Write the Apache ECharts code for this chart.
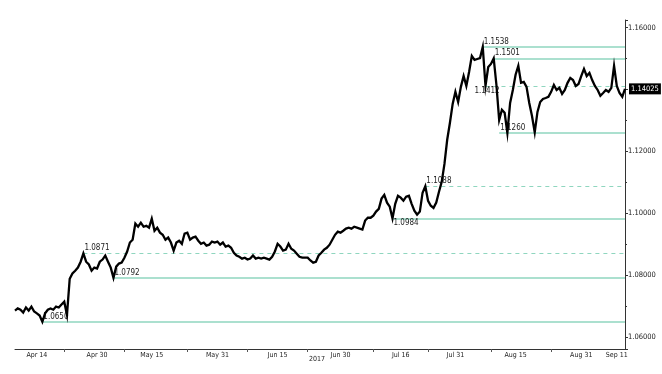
<!DOCTYPE html>
<html><head><meta charset="utf-8">
<script src="https://cdn.jsdelivr.net/npm/echarts@6/dist/echarts.min.js"></script>
<style>html,body{margin:0;padding:0;background:#fff}#c{width:662px;height:374px}</style>
</head><body><div id="c"></div>
<script>
const tradingDays = [
 'Apr 10','Apr 11','Apr 12','Apr 13','Apr 14','Apr 17','Apr 18','Apr 19','Apr 20','Apr 21','Apr 24','Apr 25','Apr 26','Apr 27','Apr 28',
 'May 1','May 2','May 3','May 4','May 5','May 8','May 9','May 10','May 11','May 12','May 15','May 16','May 17','May 18','May 19','May 22','May 23','May 24','May 25','May 26','May 29','May 30','May 31',
 'Jun 1','Jun 2','Jun 5','Jun 6','Jun 7','Jun 8','Jun 9','Jun 12','Jun 13','Jun 14','Jun 15','Jun 16','Jun 19','Jun 20','Jun 21','Jun 22','Jun 23','Jun 26','Jun 27','Jun 28','Jun 29','Jun 30',
 'Jul 3','Jul 4','Jul 5','Jul 6','Jul 7','Jul 10','Jul 11','Jul 12','Jul 13','Jul 14','Jul 17','Jul 18','Jul 19','Jul 20','Jul 21','Jul 24','Jul 25','Jul 26','Jul 27','Jul 28','Jul 31',
 'Aug 1','Aug 2','Aug 3','Aug 4','Aug 7','Aug 8','Aug 9','Aug 10','Aug 11','Aug 14','Aug 15','Aug 16','Aug 17','Aug 18','Aug 21','Aug 22','Aug 23','Aug 24','Aug 25','Aug 28','Aug 29','Aug 30','Aug 31',
 'Sep 1','Sep 4','Sep 5','Sep 6','Sep 7','Sep 8','Sep 11','Sep 12'
];
const sessions = ['00h', '12h'];

// EUR/CHF, two readings per trading day
const price = [
 1.0686,1.0693,1.0689,1.0680,1.0696,1.0686,1.0699,1.0683,1.0677,1.0670,
 1.0650,1.0677,1.0689,1.0693,1.0689,1.0699,1.0696,1.0706,1.0715,1.0672,
 1.0789,1.0806,1.0815,1.0825,1.0844,1.0871,1.0844,1.0835,1.0815,1.0825,
 1.0822,1.0844,1.0851,1.0864,1.0844,1.0825,1.0792,1.0828,1.0838,1.0841,
 1.0857,1.0877,1.0906,1.0915,1.0967,1.0957,1.0970,1.0957,1.0960,1.0954,
 1.0983,1.0944,1.0954,1.0938,1.0931,1.0915,1.0922,1.0906,1.0880,1.0906,
 1.0912,1.0902,1.0935,1.0938,1.0915,1.0922,1.0925,1.0912,1.0902,1.0906,
 1.0896,1.0899,1.0909,1.0906,1.0909,1.0899,1.0906,1.0893,1.0896,1.0889,
 1.0873,1.0864,1.0860,1.0854,1.0857,1.0851,1.0854,1.0864,1.0854,1.0857,
 1.0854,1.0857,1.0854,1.0851,1.0860,1.0877,1.0902,1.0893,1.0880,1.0883,
 1.0902,1.0886,1.0880,1.0870,1.0860,1.0857,1.0857,1.0857,1.0848,1.0841,
 1.0844,1.0864,1.0873,1.0883,1.0889,1.0899,1.0915,1.0931,1.0941,1.0938,
 1.0944,1.0951,1.0954,1.0951,1.0957,1.0954,1.0951,1.0948,1.0977,1.0986,
 1.0986,1.0993,1.1006,1.1015,1.1048,1.1060,1.1035,1.1022,1.0984,1.1031,
 1.1057,1.1051,1.1041,1.1054,1.1057,1.1031,1.1009,1.0996,1.1006,1.1067,
 1.1088,1.1041,1.1025,1.1018,1.1035,1.1070,1.1102,1.1160,1.1238,1.1293,
 1.1354,1.1393,1.1360,1.1409,1.1444,1.1412,1.1457,1.1509,1.1496,1.1499,
 1.1502,1.1538,1.1412,1.1473,1.1483,1.1501,1.1415,1.1302,1.1335,1.1325,
 1.1260,1.1357,1.1399,1.1448,1.1477,1.1422,1.1425,1.1409,1.1357,1.1315,
 1.1262,1.1328,1.1360,1.1370,1.1373,1.1377,1.1393,1.1415,1.1399,1.1406,
 1.1386,1.1399,1.1422,1.1438,1.1431,1.1412,1.1418,1.1444,1.1467,1.1444,
 1.1454,1.1431,1.1412,1.1399,1.1380,1.1389,1.1399,1.1393,1.1406,1.1477,
 1.1412,1.1389,1.1377,1.14025
];

const levelValues  = [1.0650, 1.0871, 1.0792, 1.0984, 1.1088, 1.1538, 1.1412, 1.1501, 1.1260];
const levelStart   = ['Apr 17 00h','Apr 26 12h','May 4 00h','Jul 14 00h','Jul 24 00h','Aug 7 12h','Aug 8 00h','Aug 9 12h','Aug 10 12h'];
const levelDashed  = [false, true, false, false, true, false, true, false, false];
const levelBelow   = [false, false, false, true, false, false, true, false, false];

const xLabelAt   = ['Apr 14 00h','May 1 00h','May 15 00h','May 31 00h','Jun 15 00h','Jun 30 12h','Jul 17 12h','Jul 31 12h','Aug 15 12h','Aug 31 12h','Sep 11 00h'];
const xLabelText = ['Apr 14','Apr 30','May 15','May 31','Jun 15','Jun 30','Jul 16','Jul 31','Aug 15','Aug 31','Sep 11'];
const xTickAt    = ['Apr 21 00h','May 8 00h','May 23 12h','Jun 7 12h','Jun 22 12h','Jul 10 12h','Jul 24 12h','Aug 9 00h','Aug 24 00h'];
const yearText = '2017';

const categories = [];
tradingDays.forEach(d => sessions.forEach(s => categories.push(d + ' ' + s)));
const lastCat = categories[categories.length - 1];

const FONT = '"Liberation Sans Narrow","DejaVu Sans Condensed","Liberation Sans",sans-serif';
const LEVEL_COLOR = '#8fd6bf';

const markData = levelValues.map((v, i) => [
  { name: v.toFixed(4), coord: [levelStart[i], v],
    lineStyle: { type: levelDashed[i] ? [4, 4] : 'solid', width: levelDashed[i] ? 1 : 1.5, color: LEVEL_COLOR },
    label: { position: levelBelow[i] ? 'insideStartBottom' : 'insideStartTop',
             offset: (levelBelow[i] && levelDashed[i]) ? [-12, 0] : [0, 0] } },
  { coord: [lastCat, v] }
]);

const chart = echarts.init(document.getElementById('c'), null, { renderer: 'canvas' });
chart.setOption({
  animation: false,
  backgroundColor: '#fff',
  grid: { left: 15, right: 37, top: 20, bottom: 25, containLabel: false },
  xAxis: {
    type: 'category', data: categories, boundaryGap: false,
    axisLine: { lineStyle: { color: '#333', width: 1 } },
    axisTick: { show: true, length: 3, interval: (i, v) => xTickAt.includes(v), lineStyle: { color: '#555' } },
    axisLabel: { interval: (i, v) => xLabelAt.includes(v), formatter: v => xLabelText[xLabelAt.indexOf(v)] || '',
      fontSize: 7, color: '#222', margin: 3, fontFamily: FONT, hideOverlap: false },
    splitLine: { show: false }
  },
  yAxis: {
    type: 'value', position: 'right', min: 1.0562, max: 1.1625, splitNumber: 5,
    axisLine: { show: true, lineStyle: { color: '#333', width: 1 } },
    axisTick: { show: true, length: 3, lineStyle: { color: '#333' } },
    minorTick: { show: true, splitNumber: 2, length: 2, lineStyle: { color: '#333' } },
    splitLine: { show: false },
    axisLabel: { showMinLabel: false, showMaxLabel: false, fontSize: 7.5, color: '#222', margin: 3, fontFamily: FONT,
      formatter: v => Math.abs(v - 1.14) < 1e-9 ? '' : v.toFixed(5) }
  },
  graphic: [{ type: 'text', left: 309, top: 356, style: { text: yearText, font: '7px ' + FONT, fill: '#222' } }],
  series: [{
    type: 'line', data: price, symbol: 'none', showSymbol: false, z: 5,
    lineStyle: { color: '#000', width: 2.3, join: 'miter' },
    endLabel: { show: true, formatter: p => Number(p.value).toFixed(5), color: '#fff', backgroundColor: '#000',
      fontSize: 7.5, fontFamily: FONT, padding: [2, 2, 1, 2], distance: 4 },
    markLine: {
      silent: true, symbol: 'none', animation: false,
      label: { show: true, formatter: '{b}', color: '#222', fontSize: 8, fontFamily: FONT, distance: 1 },
      data: markData
    }
  }]
});
</script></body></html>
